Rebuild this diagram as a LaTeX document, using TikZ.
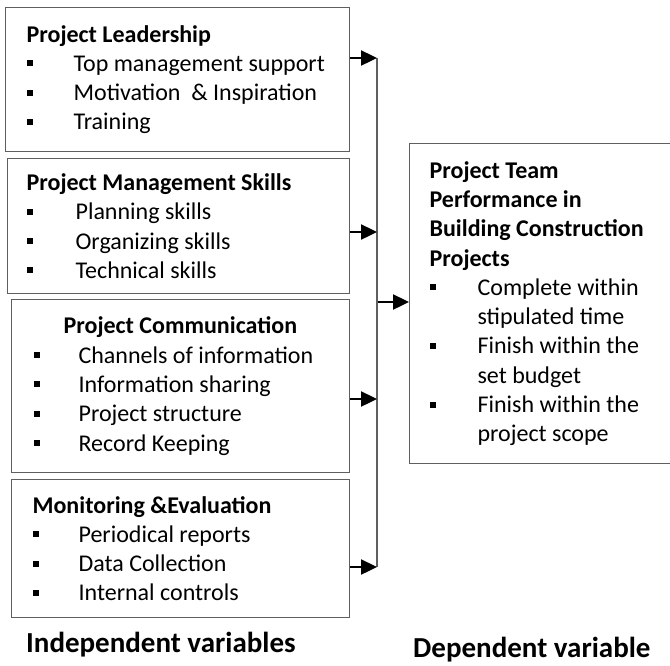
\documentclass[tikz,border=0pt]{standalone}
\usepackage{fontspec}
\setmainfont{Carlito}
\usetikzlibrary{arrows.meta, positioning}
\definecolor{boxgray}{RGB}{95,95,95}
\newcommand{\itm}[2]{\makebox[#1][l]{\rule[5pt]{6pt}{6pt}}#2}

\begin{document}
\begin{tikzpicture}[x=1pt, y=-1pt, font=\fontsize{24}{29.3}\selectfont]
  \tikzset{
    factor_box/.style args={#1/#2/#3}{
      rectangle, draw=boxgray, line width=1.2pt, anchor=north west, align=flush left,
      inner xsep=#1, inner ysep=0pt, text width=#2, minimum height=#3
    },
    caption_text/.style={anchor=base west, inner sep=0pt, font=\bfseries\fontsize{29}{35}\selectfont},
    bus_line/.style={draw=boxgray, line width=1.5pt},
    bus_arrow/.style={-{Triangle[length=16pt, width=15pt]}, line width=2.4pt}
  }

\useasboundingbox (0,0) rectangle (670,665);

\node[factor_box=21pt/302pt/144pt] (lead) at (5,7) {%
  {\bfseries Project Leadership}\\
  \itm{47pt}{Top management support}\\
  \itm{47pt}{Motivation~ \& Inspiration}\\
  \itm{47pt}{Training}};

\node[factor_box=19pt/304pt/135pt] (skills) at (7,158) {%
  {\bfseries Project Management Skills}\\
  \itm{49pt}{Planning skills}\\
  \itm{49pt}{Organizing skills}\\
  \itm{49pt}{Technical skills}};

\node[factor_box=22pt/294pt/173pt] (comm) at (11,299) {%
  \hspace*{30pt}{\bfseries Project Communication}\\
  \itm{45pt}{Channels of information}\\
  \itm{45pt}{Information sharing}\\
  \itm{45pt}{Project structure}\\
  \itm{45pt}{Record Keeping}};

\node[factor_box=21pt/296pt/138pt] (monitor) at (11,479) {%
  {\bfseries Monitoring \&Evaluation}\\
  \itm{46pt}{Periodical reports}\\
  \itm{46pt}{Data Collection}\\
  \itm{46pt}{Internal controls}};

\node[factor_box=20pt/260pt/320pt] (team) at (409,143) {%
  {\bfseries Project Team\\ Performance in\\ Building Construction\\ Projects}\\
  \itm{48pt}{Complete within}\\
  \hspace*{48pt}stipulated time\\
  \itm{48pt}{Finish within the}\\
  \hspace*{48pt}set budget\\
  \itm{48pt}{Finish within the}\\
  \hspace*{48pt}project scope};

\node[caption_text] (indep) at (26,652) {Independent variables};
\node[caption_text] (dep) at (413,657) {Dependent variable};

% Bus joining the factors to the outcome
\coordinate (bus-1) at (377,58);
\coordinate (bus-2) at (377,232);
\coordinate (bus-3) at (377,399);
\coordinate (bus-4) at (377,567);
\coordinate (bus-out) at (378,302);

\draw[bus_line] (bus-1) -- (bus-4);
\foreach \b/\n in {lead/1, skills/2, comm/3, monitor/4}
  \draw[bus_arrow] (\b.east |- bus-\n) -- (bus-\n);
\draw[bus_arrow] (bus-out) -- (bus-out -| team.west);

\end{tikzpicture}
\end{document}
